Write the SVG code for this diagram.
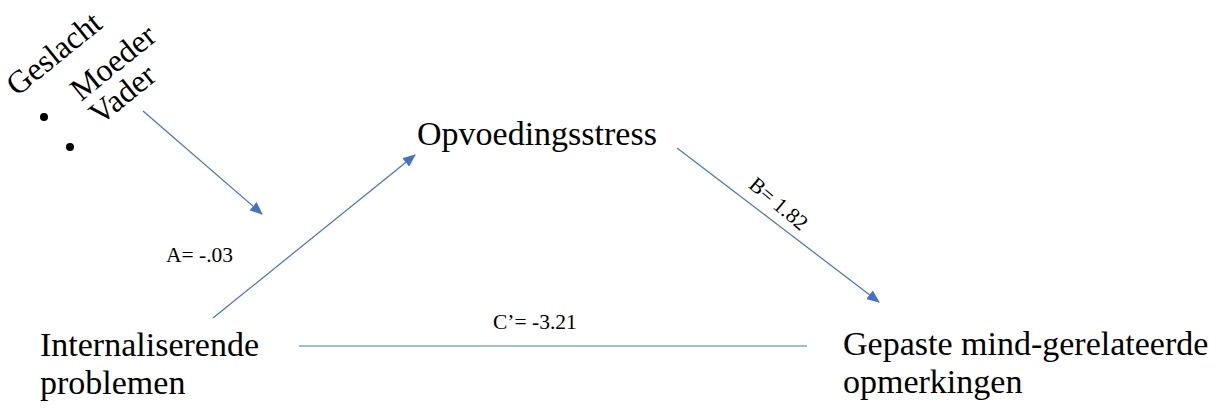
<svg xmlns="http://www.w3.org/2000/svg" width="1219" height="408" viewBox="0 0 1219 408">
<style>
.t{font-family:"Liberation Serif","Times New Roman",serif;fill:#000}
.big{font-size:34px}
.rot{font-size:32px}
.sm{font-size:21.5px}
.c{stroke:#4472C4;stroke-width:1.2;fill:none}
</style>
<defs>
<marker id="ah2" viewBox="0 0 12 10" refX="11" refY="5" markerWidth="13" markerHeight="11" markerUnits="userSpaceOnUse" orient="auto">
<path d="M0,0 L12,5 L0,10 Z" fill="#4472C4"/>
</marker>
</defs>
<rect width="1219" height="408" fill="#fff"/>
<g id="connectors">
<line class="c" x1="143" y1="111" x2="262" y2="214" marker-end="url(#ah2)"/>
<line class="c" x1="213" y1="318" x2="415" y2="155" marker-end="url(#ah2)"/>
<line class="c" x1="677" y1="148" x2="879" y2="302" marker-end="url(#ah2)"/>
<line class="c" x1="299" y1="346" x2="807" y2="346"/>
<text class="t sm" x="166" y="262">A= -.03</text>
<text class="t sm" x="493" y="329">C’= -3.21</text>
<text class="t sm" text-anchor="middle" transform="translate(774,209) rotate(40)">B= 1.82</text>
</g>
<g id="node-geslacht">
<text class="t rot" transform="translate(17,97) rotate(-39)">Geslacht</text>
<text class="t rot" transform="translate(81,102) rotate(-39)">Moeder</text>
<text class="t rot" transform="translate(100,126) rotate(-39)">Vader</text>
<circle cx="44" cy="117" r="4" fill="#000"/>
<circle cx="70" cy="147" r="4" fill="#000"/>
</g>
<g id="node-opvoedingsstress">
<text class="t big" x="417" y="145">Opvoedingsstress</text>
</g>
<g id="node-internaliserende">
<text class="t big" x="40" y="356">Internaliserende</text>
<text class="t big" x="40" y="394">problemen</text>
</g>
<g id="node-gepaste">
<text class="t big" x="843" y="355">Gepaste mind-gerelateerde</text>
<text class="t big" x="843" y="393">opmerkingen</text>
</g>
</svg>
